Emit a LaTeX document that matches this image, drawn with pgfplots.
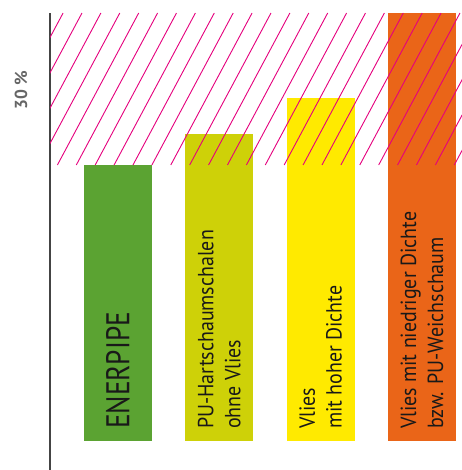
\documentclass[border=0pt]{standalone}
\usepackage{pgfplots}
\pgfplotsset{compat=1.18}
\usepackage{fontspec}
\setmainfont{PT Sans}
\newfontfamily\lblfont[FakeStretch=0.91]{PT Sans}
\newfontfamily\enerfont[FakeStretch=0.83]{PT Sans}

\definecolor{cgreen}{HTML}{5BA332}
\definecolor{colive}{HTML}{CED108}
\definecolor{cyellow}{HTML}{FFEA00}
\definecolor{corange}{HTML}{EA6518}
\definecolor{cpink}{HTML}{E5007D}
\definecolor{caxis}{HTML}{444444}

\begin{document}
\begin{tikzpicture}
\begin{axis}[
    name=ax,
    scale only axis, width=412bp, height=457bp,
    xmin=-0.671, xmax=3.395, ymin=-10.51, ymax=155.07,
    axis x line=none, axis y line*=left,
    y axis line style={-, line width=1.3bp, caxis},
    xtick=\empty, ytick=\empty,
    clip=true,
]
% Balken (ENERPIPE = 100)
\addplot[ybar, bar width=68bp, bar shift=0pt, fill=cgreen, draw=none] coordinates {(0,100)};
\addplot[ybar, bar width=68bp, bar shift=0pt, fill=colive, draw=none] coordinates {(1,111.2)};
\addplot[ybar, bar width=68bp, bar shift=0pt, fill=cyellow, draw=none] coordinates {(2,124.3)};
\addplot[ybar, bar width=68bp, bar shift=0pt, fill=corange, draw=none] coordinates {(3,155.1)};

% schraffierter Bereich (100 ... oben)
\addplot[cpink, line width=0.9bp, unbounded coords=jump] coordinates {
 (-1.3441,100) (-0.5418,155.07) (nan,nan)
 (-1.1576,100) (-0.3553,155.07) (nan,nan)
 (-0.9711,100) (-0.1688,155.07) (nan,nan)
 (-0.7846,100) (0.0178,155.07) (nan,nan)
 (-0.5980,100) (0.2043,155.07) (nan,nan)
 (-0.4115,100) (0.3908,155.07) (nan,nan)
 (-0.2250,100) (0.5773,155.07) (nan,nan)
 (-0.0385,100) (0.7638,155.07) (nan,nan)
 (0.1480,100) (0.9504,155.07) (nan,nan)
 (0.3346,100) (1.1369,155.07) (nan,nan)
 (0.5211,100) (1.3234,155.07) (nan,nan)
 (0.7076,100) (1.5099,155.07) (nan,nan)
 (0.8941,100) (1.6964,155.07) (nan,nan)
 (1.0806,100) (1.8830,155.07) (nan,nan)
 (1.2672,100) (2.0695,155.07) (nan,nan)
 (1.4537,100) (2.2560,155.07) (nan,nan)
 (1.6402,100) (2.4425,155.07) (nan,nan)
 (1.8267,100) (2.6290,155.07) (nan,nan)
 (2.0132,100) (2.8156,155.07) (nan,nan)
 (2.1998,100) (3.0021,155.07) (nan,nan)
 (2.3863,100) (3.1886,155.07) (nan,nan)
 (2.5728,100) (3.3751,155.07) (nan,nan)
 (2.7593,100) (3.5616,155.07) (nan,nan)
 (2.9458,100) (3.7482,155.07) (nan,nan)
 (3.1324,100) (3.9347,155.07) (nan,nan)
 (3.3189,100) (4.1212,155.07)
};

% Beschriftungen
\node[rotate=90, anchor=west, inner sep=0, text=black!90,
      font=\enerfont\fontsize{33}{33}\selectfont] at (axis cs:0,4.3) {ENERPIPE};
\node[rotate=90, anchor=west, inner sep=0, align=left, text=black!90,
      font=\lblfont\fontsize{22}{27}\selectfont] at (axis cs:1,4.3) {PU-Hartschaumschalen\\ohne Vlies};
\node[rotate=90, anchor=west, inner sep=0, align=left, text=black!90,
      font=\lblfont\fontsize{22}{27}\selectfont] at (axis cs:2,4.3) {Vlies\\mit hoher Dichte};
\node[rotate=90, anchor=west, inner sep=0, align=left, text=black!90,
      font=\lblfont\fontsize{22}{27}\selectfont] at (axis cs:3,4.3) {Vlies mit niedriger Dichte\\bzw. PU-Weichschaum};
\end{axis}
\node[rotate=90, inner sep=0, text=black!60, font=\bfseries\fontsize{17.5}{17.5}\selectfont]
    at ([xshift=-29bp, yshift=-77bp]ax.north west) {30 \%};
\pgfresetboundingbox
\useasboundingbox ([xshift=-50bp]ax.south west) rectangle ([yshift=13bp]ax.north east);
\end{tikzpicture}
\end{document}
